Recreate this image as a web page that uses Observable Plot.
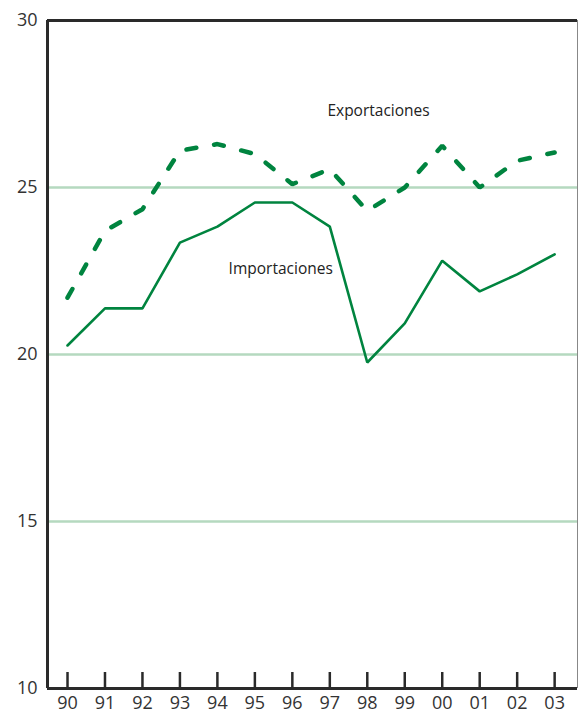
<!DOCTYPE html>
<html>
<head>
<meta charset="utf-8">
<script src="https://cdn.jsdelivr.net/npm/d3@7"></script>
<script src="https://cdn.jsdelivr.net/npm/@observablehq/plot@0.6"></script>
<style>
  html, body { margin: 0; padding: 0; background: #fff; }
  #chart svg { display: block; }
</style>
</head>
<body>
<div id="chart"></div>
<script>
const years = [1990,1991,1992,1993,1994,1995,1996,1997,1998,1999,2000,2001,2002,2003];
const yearLabels = ["90","91","92","93","94","95","96","97","98","99","00","01","02","03"];
const exportaciones = [21.7,23.7,24.35,26.1,26.3,26.0,25.1,25.55,24.3,25.0,26.25,25.0,25.8,26.05];
const importaciones = [20.27,21.38,21.38,23.35,23.83,24.55,24.55,23.83,19.76,20.93,22.81,21.89,22.4,23.0];
const yTicks = [10,15,20,25,30];
const gridValues = [15,20,25];
const seriesLabels = [
  {label: "Exportaciones", year: 1998.3, value: 27.3},
  {label: "Importaciones", year: 1995.69, value: 22.57}
];

const expData = years.map((y, i) => ({year: y, value: exportaciones[i]}));
const impData = years.map((y, i) => ({year: y, value: importaciones[i]}));
const xDomain = [1989.466, 2003.61];
const green = "#00843f";
const font = "'Open Sans', sans-serif";

const chart = Plot.plot({
  width: 578,
  height: 717,
  marginLeft: 47,
  marginRight: 1,
  marginTop: 20,
  marginBottom: 29,
  style: {fontFamily: font, fontSize: "18px", color: "#333", background: "#fff"},
  x: {domain: xDomain, ticks: years, tickFormat: (d) => yearLabels[years.indexOf(d)], tickSize: 0, tickPadding: 8, label: null},
  y: {domain: [10, 30], ticks: yTicks, tickSize: 0, tickPadding: 10, label: null},
  marks: [
    Plot.ruleX([xDomain[1]], {stroke: "#888", strokeWidth: 1}),
    Plot.ruleY(gridValues, {stroke: "#b5d9bf", strokeWidth: 2.5}),
    Plot.tickX(years, {x: d => d, stroke: "#2a2a2a", strokeWidth: 2.5, insetTop: 668 - 16}),
    Plot.ruleY([10, 30], {stroke: "#2a2a2a", strokeWidth: 3}),
    Plot.ruleX([xDomain[0]], {stroke: "#2a2a2a", strokeWidth: 3}),
    Plot.line(impData, {x: "year", y: "value", stroke: green, strokeWidth: 2.6, strokeLinejoin: "miter"}),
    Plot.line(expData, {x: "year", y: "value", stroke: green, strokeWidth: 4.5, strokeDasharray: "10,18", strokeLinejoin: "miter"}),
    Plot.text(seriesLabels, {x: "year", y: "value", text: "label", fill: "#222", fontSize: 15.5, fontFamily: font})
  ]
});
document.getElementById("chart").appendChild(chart);
</script>
</body>
</html>
